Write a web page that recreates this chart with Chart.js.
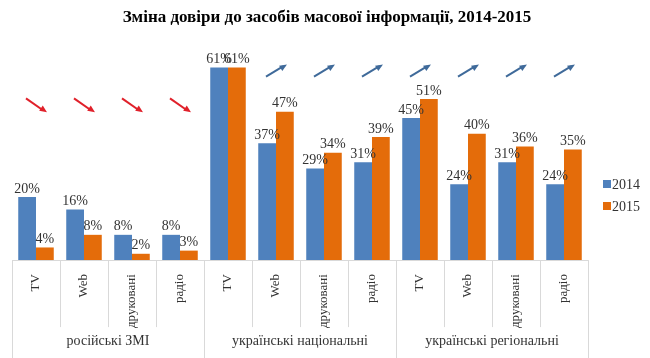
<!DOCTYPE html>
<html>
<head>
<meta charset="utf-8">
<script src="https://cdn.jsdelivr.net/npm/chart.js@4"></script>
<style>
  html, body { margin: 0; padding: 0; background: #fff; }
  #wrap { width: 650px; height: 358px; }
</style>
</head>
<body>
<div id="wrap"><canvas id="chart"></canvas></div>
<script>
var categories = ['TV', 'Web', 'друковані', 'радіо', 'TV', 'Web', 'друковані', 'радіо', 'TV', 'Web', 'друковані', 'радіо'];
var groups = ['російські ЗМІ', 'українські національні', 'українські регіональні'];
var values2014 = [20, 16, 8, 8, 61, 37, 29, 31, 45, 24, 31, 24];
var values2015 = [4, 8, 2, 3, 61, 47, 34, 39, 51, 40, 36, 35];
var seriesNames = ['2014', '2015'];
var title = 'Зміна довіри до засобів масової інформації, 2014-2015';

var serif = '"Liberation Serif", "Times New Roman", serif';
var textColor = '#333333';
var lineColor = '#d9d9d9';

// title, arrows, group labels, separators, legend, value labels
var decor = {
    id: 'decor',
    afterDatasetsDraw: function(chart) {
        var ctx = chart.ctx;
        ctx.save();
        ctx.font = '14px ' + serif;
        ctx.fillStyle = textColor;
        ctx.textAlign = 'center';
        ctx.textBaseline = 'bottom';
        chart.data.datasets.forEach(function(ds, di) {
            chart.getDatasetMeta(di).data.forEach(function(el, i) {
                ctx.fillText(ds.data[i] + '%', el.x, el.y - 1);
            });
        });
        ctx.restore();
    },
    afterDraw: function(chart) {
        var ctx = chart.ctx;
        var x = chart.scales.x, y = chart.scales.y;
        var area = chart.chartArea;
        var step = (x.right - x.left) / categories.length;
        ctx.save();

        ctx.font = 'bold 17px ' + serif;
        ctx.fillStyle = '#000';
        ctx.textAlign = 'center';
        ctx.textBaseline = 'middle';
        ctx.fillText(title, chart.width / 2 + 2, 18);

        // baseline + separators
        ctx.strokeStyle = lineColor;
        ctx.lineWidth = 1;
        ctx.beginPath();
        ctx.moveTo(area.left, Math.round(area.bottom) + 0.5);
        ctx.lineTo(area.right, Math.round(area.bottom) + 0.5);
        for (var i = 0; i <= categories.length; i++) {
            var px = Math.round(x.left + i * step) + 0.5;
            var end = (i % 4 === 0) ? chart.height : area.bottom + 67;
            ctx.moveTo(px, area.bottom);
            ctx.lineTo(px, end);
        }
        ctx.stroke();

        // group labels
        ctx.font = '14px ' + serif;
        ctx.fillStyle = textColor;
        ctx.textAlign = 'center';
        ctx.textBaseline = 'middle';
        groups.forEach(function(g, gi) {
            ctx.fillText(g, x.left + (gi * 4 + 2) * step, area.bottom + 81);
        });

        // trend arrows
        categories.forEach(function(c, i) {
            var diff = values2015[i] - values2014[i];
            if (diff === 0) return;
            var cx = x.getPixelForValue(i);
            var up = diff > 0;
            var cy = up ? y.getPixelForValue(60) : y.getPixelForValue(49);
            var dx = 10, dy = up ? -6 : 7;
            ctx.strokeStyle = up ? '#3f6a9a' : '#e0202a';
            ctx.fillStyle = ctx.strokeStyle;
            ctx.lineWidth = 2;
            ctx.beginPath();
            ctx.moveTo(cx - dx, cy - dy);
            ctx.lineTo(cx + dx - 3, cy + dy - dy * 0.3);
            ctx.stroke();
            var ang = Math.atan2(2 * dy, 2 * dx);
            var tx = cx + dx + 1, ty = cy + dy;
            ctx.beginPath();
            ctx.moveTo(tx, ty);
            ctx.lineTo(tx - 8 * Math.cos(ang - 0.4), ty - 8 * Math.sin(ang - 0.4));
            ctx.lineTo(tx - 8 * Math.cos(ang + 0.4), ty - 8 * Math.sin(ang + 0.4));
            ctx.closePath();
            ctx.fill();
        });

        // legend
        ctx.font = '14px ' + serif;
        ctx.textAlign = 'left';
        ctx.textBaseline = 'middle';
        chart.data.datasets.forEach(function(ds, di) {
            var ly = 184 + di * 22;
            ctx.fillStyle = ds.backgroundColor;
            ctx.fillRect(603, ly - 4, 8, 8);
            ctx.fillStyle = textColor;
            ctx.fillText(seriesNames[di], 612, ly + 1);
        });
        ctx.restore();
    }
};

new Chart(document.getElementById('chart'), {
    type: 'bar',
    data: {
        labels: categories,
        datasets: [{
            label: seriesNames[0],
            data: values2014,
            backgroundColor: '#4f81bd',
            categoryPercentage: 0.74,
            barPercentage: 1
        }, {
            label: seriesNames[1],
            data: values2015,
            backgroundColor: '#e46c0a',
            categoryPercentage: 0.74,
            barPercentage: 1
        }]
    },
    options: {
        responsive: true,
        maintainAspectRatio: false,
        animation: false,
        layout: {
            padding: { left: 12, right: 62, top: 39, bottom: 24 }
        },
        plugins: {
            legend: { display: false },
            tooltip: { enabled: false },
            title: { display: false }
        },
        scales: {
            x: {
                grid: { display: false },
                border: { display: false },
                ticks: {
                    autoSkip: false,
                    minRotation: 90,
                    maxRotation: 90,
                    padding: 6,
                    color: textColor,
                    font: { family: serif, size: 13 }
                }
            },
            y: {
                display: false,
                min: 0,
                max: 70
            }
        }
    },
    plugins: [decor]
});
</script>
</body>
</html>
